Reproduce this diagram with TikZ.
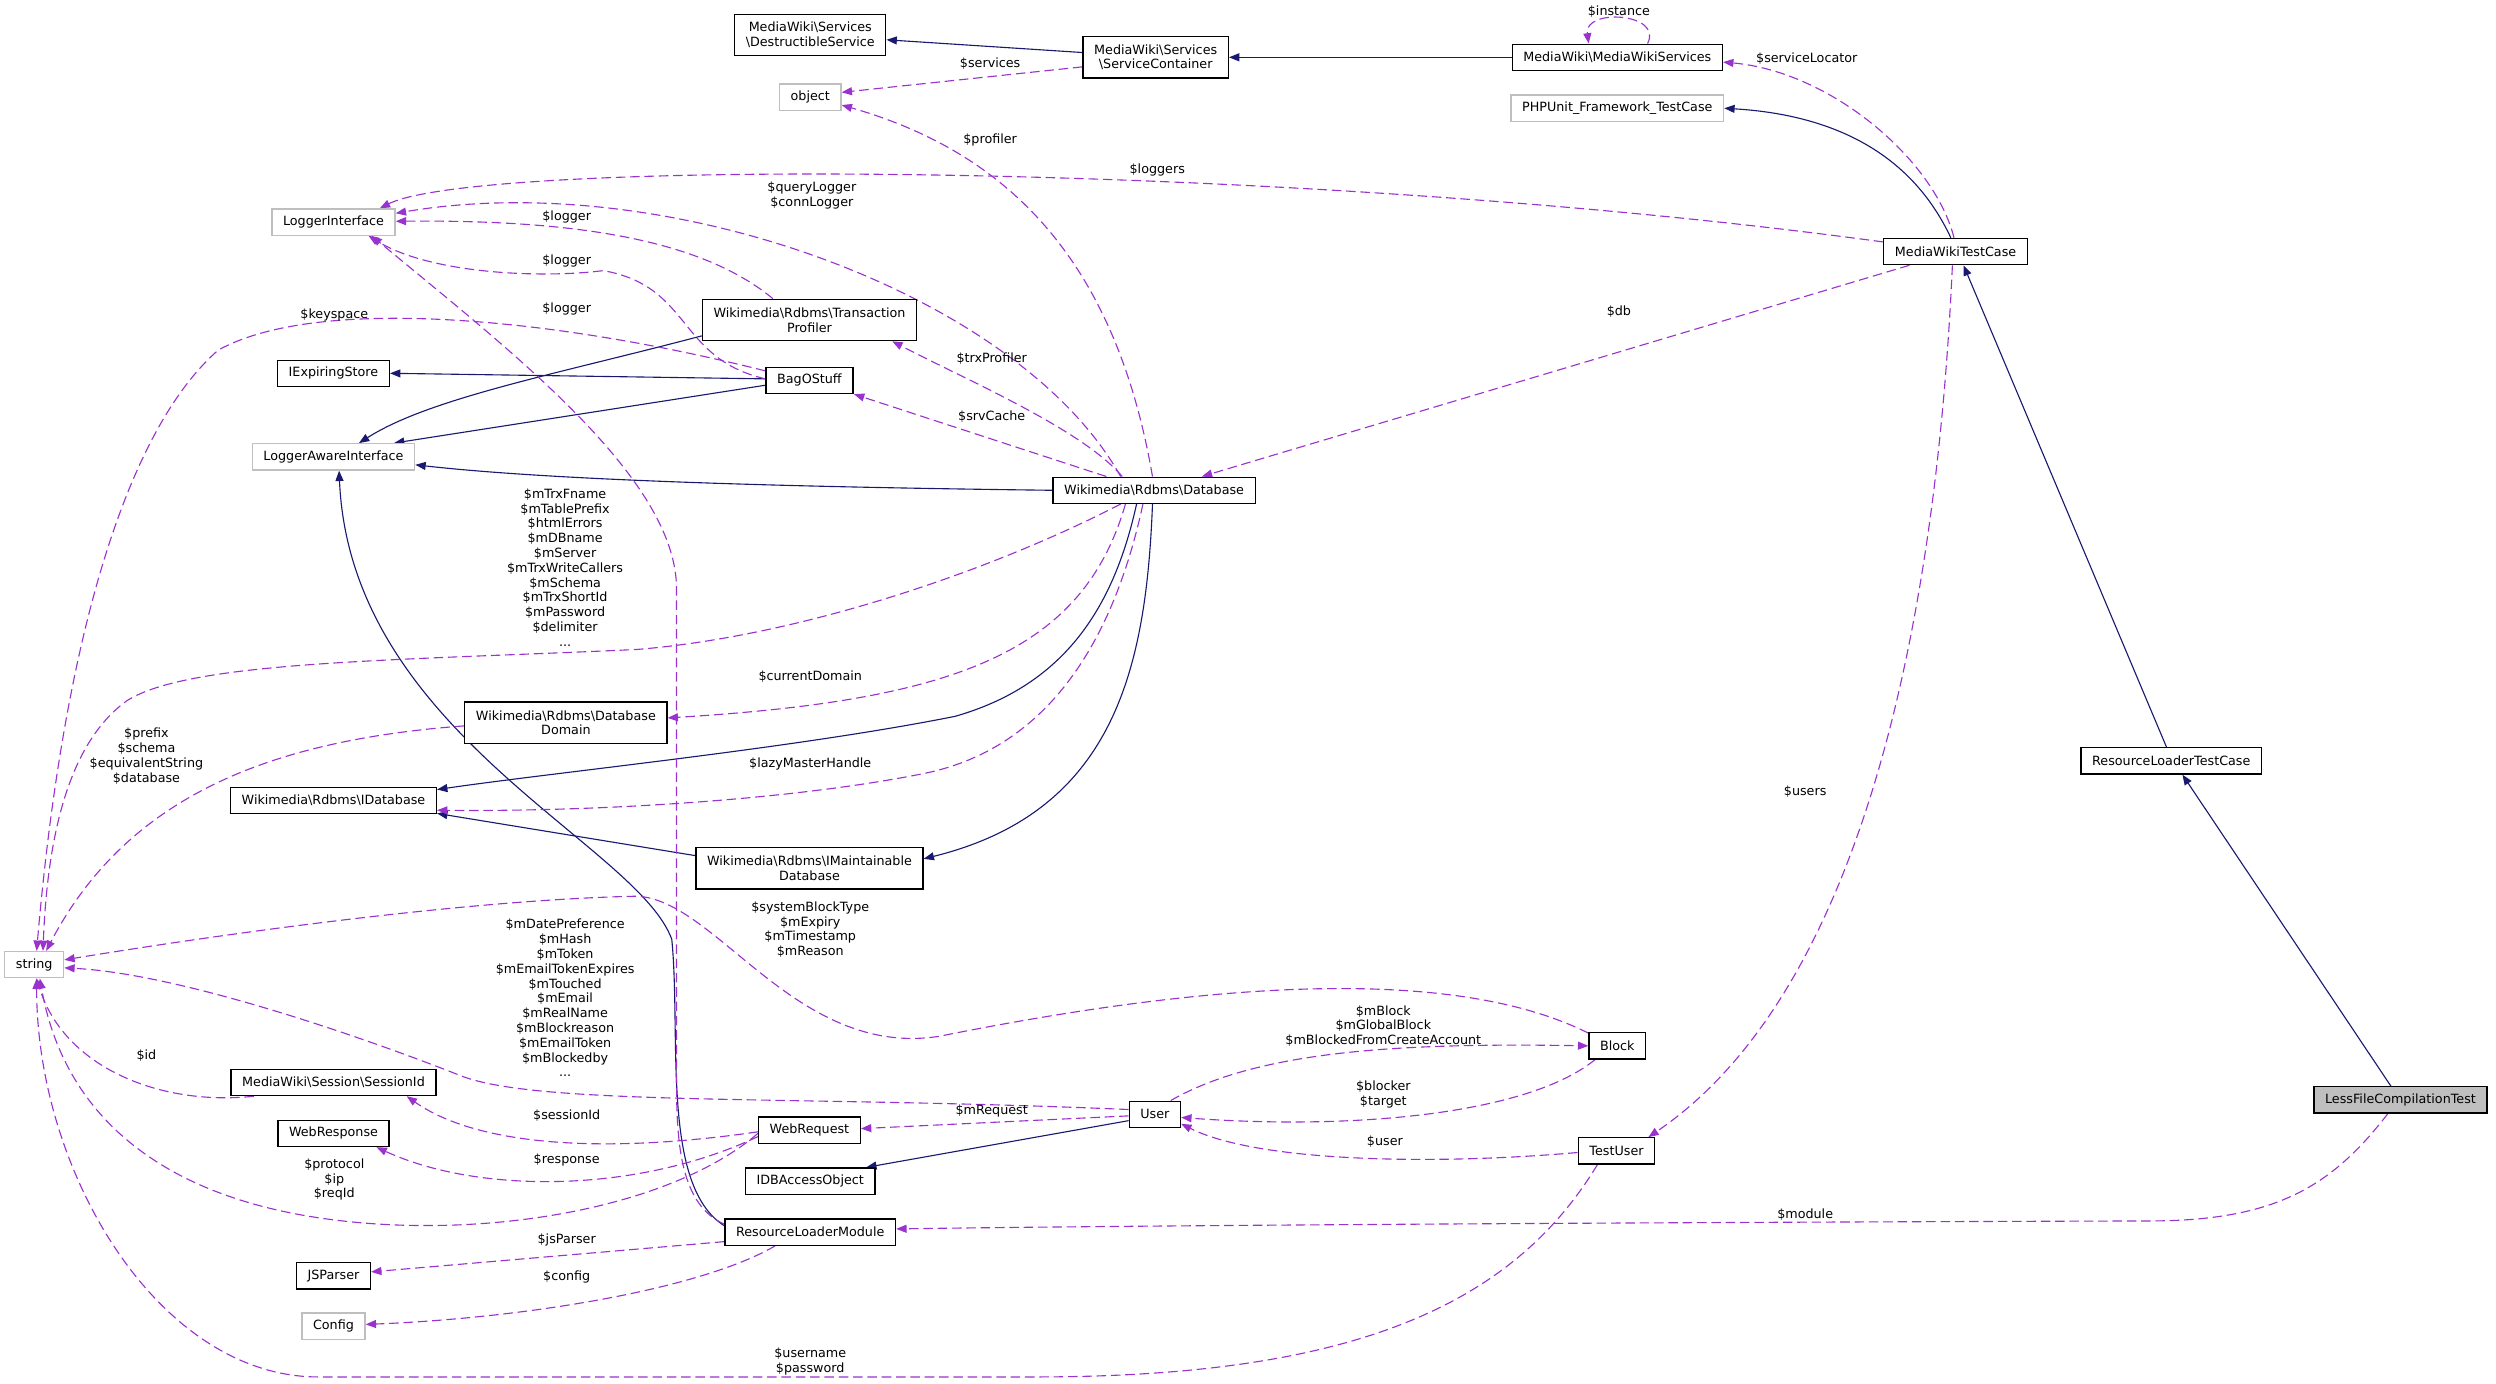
\documentclass[tikz,border=0pt]{standalone}
\usepackage{fontspec}
\setmainfont{DejaVu Sans}
\usetikzlibrary{arrows.meta}
\definecolor{navy}{HTML}{191970}
\definecolor{purp}{HTML}{9A32CD}
\definecolor{gry}{HTML}{BFBFBF}
\pgfdeclarelayer{back}
\pgfdeclarelayer{bg}
\pgfsetlayers{back,bg,main}
\begin{document}
\begin{tikzpicture}[x=1pt,y=1pt,
  font=\fontsize{8}{9.3}\selectfont,
  cls/.style={draw=black, line width=0.8pt, fill=white, inner xsep=7pt, inner ysep=2pt, minimum height=16.5pt, align=center},
  cls2/.style={cls, minimum height=26pt},
  ucls/.style={cls, draw=gry},
  lbl/.style={inner sep=0pt, align=center},
  inh/.style={draw=navy, line width=0.7pt, -{Triangle[length=6.5pt,width=5pt]}},
  use/.style={draw=purp, line width=0.7pt, dash pattern=on 6pt off 3pt, -{Triangle[length=6.5pt,width=5pt]}}]
\useasboundingbox (0,0) rectangle (1568,-869);
\begin{pgfonlayer}{back}
\fill[white] (0,0) rectangle (1568,-869);
\end{pgfonlayer}
% nodes
\node[cls2] (destr) at (509,-22) {MediaWiki\textbackslash Services\\\textbackslash DestructibleService};
\node[cls2] (sc) at (726,-36) {MediaWiki\textbackslash Services\\\textbackslash ServiceContainer};
\node[cls] (mws) at (1016,-36) {MediaWiki\textbackslash MediaWikiServices};
\node[ucls] (phpunit) at (1016,-68) {PHPUnit\_Framework\_TestCase};
\node[ucls] (object) at (509,-61) {object};
\node[ucls] (logi) at (209.5,-139.5) {LoggerInterface};
\node[cls] (mwtc) at (1228.5,-158) {MediaWikiTestCase};
\node[cls2] (tp) at (508.5,-201) {Wikimedia\textbackslash Rdbms\textbackslash Transaction\\Profiler};
\node[cls] (ies) at (209.5,-234.5) {IExpiringStore};
\node[cls] (bag) at (508.5,-239) {BagOStuff};
\node[ucls] (lai) at (209.5,-287) {LoggerAwareInterface};
\node[cls] (db) at (725,-308) {Wikimedia\textbackslash Rdbms\textbackslash Database};
\node[cls2] (dd) at (355.5,-454) {Wikimedia\textbackslash Rdbms\textbackslash Database\\Domain};
\node[cls] (idb) at (209.5,-503) {Wikimedia\textbackslash Rdbms\textbackslash IDatabase};
\node[cls2] (imd) at (508.5,-545.5) {Wikimedia\textbackslash Rdbms\textbackslash IMaintainable\\Database};
\node[cls] (rltc) at (1364,-478) {ResourceLoaderTestCase};
\node[ucls] (str) at (21.5,-606) {string};
\node[cls] (block) at (1016,-657) {Block};
\node[cls] (sid) at (209.5,-680) {MediaWiki\textbackslash Session\textbackslash SessionId};
\node[cls, fill=gry] (lfct) at (1508,-691) {LessFileCompilationTest};
\node[cls] (user) at (725.5,-700) {User};
\node[cls] (wresp) at (209.5,-712) {WebResponse};
\node[cls] (wreq) at (508.5,-710) {WebRequest};
\node[cls] (tuser) at (1015.5,-723) {TestUser};
\node[cls] (idbao) at (509,-742) {IDBAccessObject};
\node[cls] (rlm) at (509,-774) {ResourceLoaderModule};
\node[cls] (jsp) at (209.5,-801.5) {JSParser};
\node[ucls] (config) at (209.5,-833) {Config};
% labels
\node[lbl] (linst) at (1017,-7) {\$instance};
\node[lbl] (lsvc) at (622,-40) {\$services};
\node[lbl] (lsloc) at (1135,-37) {\$serviceLocator};
\node[lbl] (lprof) at (622,-88) {\$profiler};
\node[lbl] (llogs) at (727,-107) {\$loggers};
\node[lbl] (lqlog) at (510,-123) {\$queryLogger\\\$connLogger};
\node[lbl] (llog1) at (356,-136) {\$logger};
\node[lbl] (llog2) at (356,-164) {\$logger};
\node[lbl] (llog3) at (356,-194) {\$logger};
\node[lbl] (lkey) at (210,-198) {\$keyspace};
\node[lbl] (ltrx) at (623,-225) {\$trxProfiler};
\node[lbl] (lsrv) at (623,-262) {\$srvCache};
\node[lbl] (ldb) at (1017,-196) {\$db};
\node[lbl] (lmtrx) at (355,-356.5) {\$mTrxFname\\\$mTablePrefix\\\$htmlErrors\\\$mDBname\\\$mServer\\\$mTrxWriteCallers\\\$mSchema\\\$mTrxShortId\\\$mPassword\\\$delimiter\\...};
\node[lbl] (lcur) at (509,-425) {\$currentDomain};
\node[lbl] (llazy) at (509,-480) {\$lazyMasterHandle};
\node[lbl] (lpre) at (92,-475) {\$prefix\\\$schema\\\$equivalentString\\\$database};
\node[lbl] (lusers) at (1134,-497) {\$users};
\node[lbl] (lsys) at (509,-584) {\$systemBlockType\\\$mExpiry\\\$mTimestamp\\\$mReason};
\node[lbl] (lmblk) at (869,-644.5) {\$mBlock\\\$mGlobalBlock\\\$mBlockedFromCreateAccount};
\node[lbl] (lid) at (92,-663) {\$id};
\node[lbl] (lmdate) at (355,-627) {\$mDatePreference\\\$mHash\\\$mToken\\\$mEmailTokenExpires\\\$mTouched\\\$mEmail\\\$mRealName\\\$mBlockreason\\\$mEmailToken\\\$mBlockedby\\...};
\node[lbl] (lblk) at (869,-687.5) {\$blocker\\\$target};
\node[lbl] (lmreq) at (623,-698) {\$mRequest};
\node[lbl] (lsess) at (356,-701) {\$sessionId};
\node[lbl] (luser) at (870,-717) {\$user};
\node[lbl] (lresp) at (356,-729) {\$response};
\node[lbl] (lproto) at (210,-741) {\$protocol\\\$ip\\\$reqId};
\node[lbl] (lmod) at (1134,-763) {\$module};
\node[lbl] (ljs) at (356,-779) {\$jsParser};
\node[lbl] (lcfg) at (356,-802) {\$config};
\node[lbl] (luname) at (509,-855.5) {\$username\\\$password};
\begin{pgfonlayer}{bg}
% inheritance
\draw[inh] ([yshift=3pt]sc.west) -- ([yshift=-3pt]destr.east);
\draw[inh] (mws.west) -- (sc.east);
\draw[inh] ([xshift=-3pt]mwtc.north) .. controls (1200,-95) and (1150,-72) .. (phpunit.east);
\draw[inh] ([xshift=-3pt]rltc.north) -- ([xshift=5pt]mwtc.south);
\draw[inh] ([xshift=-6pt]lfct.north) -- ([xshift=7pt]rltc.south);
\draw[inh] ([yshift=-10pt]tp.west) .. controls (350,-235) and (270,-250) .. ([xshift=16pt]lai.north);
\draw[inh] ([yshift=1pt]bag.west) -- (ies.east);
\draw[inh] ([yshift=-3pt]bag.west) -- ([xshift=38pt]lai.north);
\draw[inh] (db.west) .. controls (500,-306) and (350,-302) .. ([yshift=-5pt]lai.east);
\draw[inh] ([xshift=-11pt]db.south) .. controls (700,-380) and (670,-430) .. (600,-450) .. controls (500,-470) and (350,-485) .. ([yshift=7pt]idb.east);
\draw[inh] ([xshift=-1pt]db.south) .. controls (720,-420) and (700,-510) .. ([yshift=6pt]imd.east);
\draw[inh] ([yshift=8pt]imd.west) -- ([yshift=-8pt]idb.east);
\draw[inh] ([yshift=4pt]rlm.west) .. controls (415,-745) and (428,-650) .. (422,-590) .. controls (400,-530) and (220,-460) .. ([xshift=3.5pt]lai.south);
\draw[inh] ([yshift=-4pt]user.west) -- ([xshift=-6pt]idbao.north east);
% usage
\draw[use] ([xshift=19pt]mws.north) .. controls (1045,-8) and (995,-5) .. ([xshift=-18pt]mws.north);
\draw[use] ([xshift=-1pt]mwtc.north) .. controls (1215,-100) and (1150,-45) .. ([yshift=-3pt]mws.east);
\draw[use] ([yshift=6pt]mwtc.west) .. controls (800,-100) and (300,-100) .. ([xshift=-10pt]logi.north east);
\draw[use] ([yshift=-6pt]sc.west) -- ([yshift=3pt]object.east);
\draw[use] ([xshift=-1pt]db.north) .. controls (700,-160) and (630,-95) .. ([yshift=-5pt]object.east);
\draw[use] ([xshift=-21pt]db.north) .. controls (640,-185) and (420,-105) .. ([yshift=5.5pt]logi.east);
\draw[use] ([xshift=-23pt]tp.north) .. controls (440,-150) and (360,-138) .. ([yshift=0.5pt]logi.east);
\draw[use] ([yshift=1pt]bag.west) .. controls (425,-225) and (435,-180) .. (379,-170) .. controls (340,-175) and (270,-172) .. ([xshift=22pt]logi.south);
\draw[use] ([yshift=5pt]rlm.west) .. controls (428,-757) and (425,-720) .. (425,-680) -- (425,-370) .. controls (425,-300) and (320,-220) .. ([xshift=24pt]logi.south);
\draw[use] ([yshift=6pt]bag.west) .. controls (350,-200) and (200,-185) .. (137,-220) .. controls (80,-270) and (40,-400) .. ([xshift=1.5pt]str.north);
\draw[use] ([xshift=-20pt]db.north) .. controls (680,-270) and (610,-240) .. ([xshift=52pt]tp.south);
\draw[use] ([xshift=-30pt]db.north) -- ([xshift=28pt]bag.south);
\draw[use] ([xshift=-29pt]mwtc.south) -- ([xshift=30pt]db.north);
\draw[use] ([xshift=-21pt]db.south) .. controls (620,-360) and (500,-400) .. (400,-408) .. controls (250,-415) and (120,-415) .. (80,-440) .. controls (45,-465) and (30,-520) .. ([xshift=5.5pt]str.north);
\draw[use] ([xshift=-18pt]db.south) .. controls (680,-410) and (600,-440) .. ([yshift=3pt]dd.east);
\draw[use] ([xshift=-7pt]db.south) .. controls (700,-400) and (660,-470) .. (580,-486) .. controls (500,-502) and (380,-510) .. ([yshift=-6pt]idb.east);
\draw[use] ([yshift=-2pt]dd.west) .. controls (170,-465) and (80,-500) .. ([xshift=7.5pt]str.north);
\draw[use] ([yshift=8pt]block.west) .. controls (900,-600) and (720,-625) .. (590,-651) .. controls (500,-665) and (450,-565) .. (400,-563) .. controls (300,-565) and (150,-585) .. ([yshift=3pt]str.east);
\draw[use] ([yshift=3pt]user.west) .. controls (500,-688) and (340,-695) .. (290,-676) .. controls (250,-660) and (120,-612) .. ([yshift=-2pt]str.east);
\draw[use] ([xshift=-50pt]sid.south) .. controls (100,-695) and (40,-670) .. ([xshift=1.5pt]str.south);
\draw[use] ([yshift=-1pt]wreq.west) .. controls (380,-725) and (300,-720) .. ([xshift=46pt]sid.south);
\draw[use] ([yshift=-4pt]wreq.west) .. controls (400,-750) and (300,-750) .. ([xshift=27pt]wresp.south);
\draw[use] ([yshift=-2pt]wreq.west) .. controls (420,-760) and (300,-780) .. (200,-765) .. controls (100,-750) and (40,-700) .. ([xshift=3.5pt]str.south);
\draw[use] ([yshift=-1pt]user.west) -- ([yshift=1pt]wreq.east);
\draw[use] ([xshift=10pt]user.north) .. controls (790,-660) and (880,-655) .. (block.west);
\draw[use] ([xshift=-14pt]block.south) .. controls (960,-700) and (850,-710) .. ([yshift=-2pt]user.east);
\draw[use] ([yshift=-1pt]tuser.west) .. controls (900,-732) and (790,-730) .. ([yshift=-6pt]user.east);
\draw[use] ([xshift=-2pt]mwtc.south) .. controls (1215,-420) and (1160,-630) .. ([xshift=20pt]tuser.north);
\draw[use] ([xshift=-8pt]lfct.south) .. controls (1465,-745) and (1430,-767) .. (1350,-767) .. controls (1000,-768) and (700,-770) .. ([yshift=2pt]rlm.east);
\draw[use] ([yshift=-6pt]rlm.west) -- ([yshift=2.5pt]jsp.east);
\draw[use] ([xshift=-22pt]rlm.south) .. controls (440,-810) and (330,-828) .. ([yshift=1pt]config.east);
\draw[use] ([xshift=-12pt]tuser.south) .. controls (950,-820) and (850,-865) .. (650,-865) -- (200,-865) .. controls (100,-865) and (23,-737) .. ([xshift=1.5pt]str.south);
\end{pgfonlayer}
\end{tikzpicture}
\end{document}
